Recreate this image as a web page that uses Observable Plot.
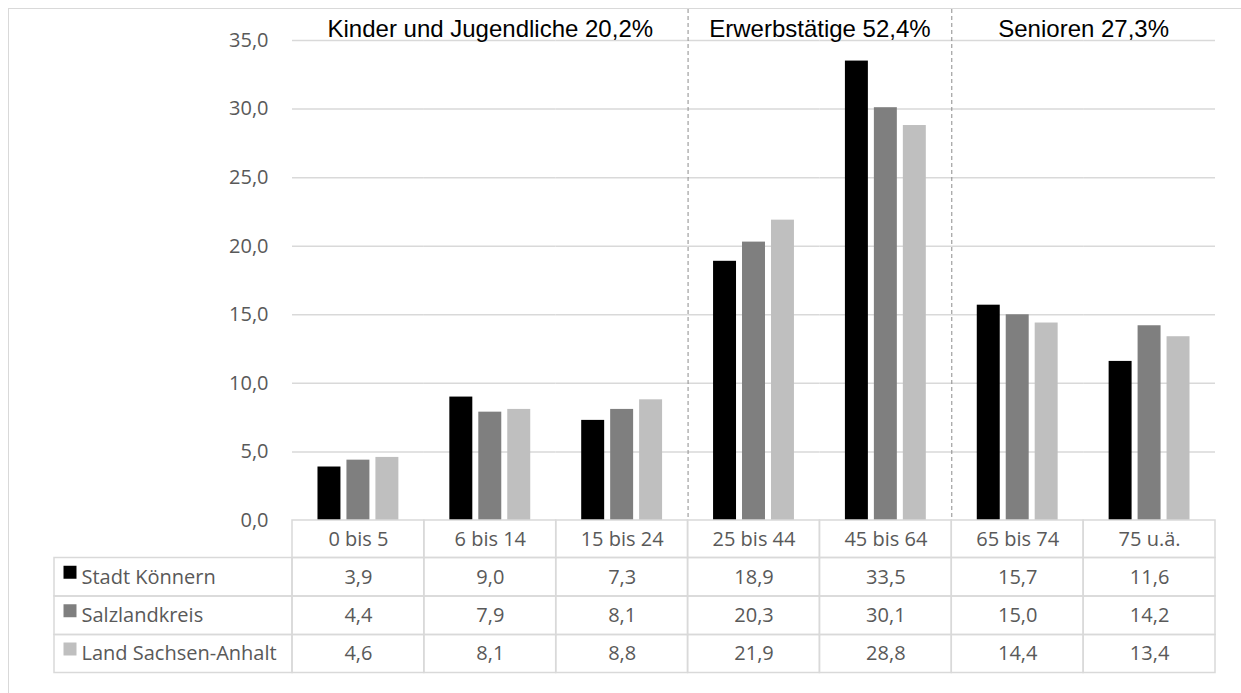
<!DOCTYPE html>
<html>
<head>
<meta charset="utf-8">
<script src="https://cdn.jsdelivr.net/npm/d3@7"></script>
<script src="https://cdn.jsdelivr.net/npm/@observablehq/plot@0.6"></script>
<style>
  html, body { margin: 0; padding: 0; background: #fff; overflow: hidden; }
  #wrap { position: relative; width: 1241px; height: 693px; overflow: hidden; background: #fff; }
  #wrap svg { position: absolute; left: 0; top: 0; }
  #border { position: absolute; left: 8px; top: 8px; width: 1400px; height: 900px;
            border: 1.5px solid #d9d9d9; pointer-events: none; }
</style>
</head>
<body>
<div id="wrap"></div>
<script>
// ---------- data ----------
const categories = ["0 bis 5", "6 bis 14", "15 bis 24", "25 bis 44", "45 bis 64", "65 bis 74", "75 u.ä."];
const seriesNames = ["Stadt Könnern", "Salzlandkreis", "Land Sachsen-Anhalt"];
const stadtKoennern = [3.9, 9.0, 7.3, 18.9, 33.5, 15.7, 11.6];
const salzlandkreis = [4.4, 7.9, 8.1, 20.3, 30.1, 15.0, 14.2];
const landSachsenAnhalt = [4.6, 8.1, 8.8, 21.9, 28.8, 14.4, 13.4];
const seriesColors = ["#000000", "#7f7f7f", "#bfbfbf"];
const groupLabels = ["Kinder und Jugendliche 20,2%", "Erwerbstätige 52,4%", "Senioren 27,3%"];
const groupStarts = ["0 bis 5", "25 bis 44", "65 bis 74"];
const groupSizes = [3, 2, 2];
const yTicks = [0, 5, 10, 15, 20, 25, 30, 35];

const seriesValues = [stadtKoennern, salzlandkreis, landSachsenAnhalt];
const rows = seriesNames.flatMap((s, i) =>
  categories.map((c, j) => ({series: s, cat: c, value: seriesValues[i][j]})));

const fmt = v => v.toFixed(1).replace(".", ",");

// ---------- layout ----------
const W = 1241, H = 693;
const mL = 292, mR = 26, mT = 40, mB = 173;
const plotH = H - mT - mB;
const fw = (W - mL - mR) / categories.length;
const rowEdges = [0, 37.5, 76, 114.5, 152.5];   // table rows below the plot bottom
const labelColW = 238;
const gridColor = "#d9d9d9";

const marks = [];

// gridlines
marks.push(Plot.ruleY(yTicks.filter(t => t > 0), {stroke: gridColor, strokeWidth: 1.5}));

// group separators (dashed) at left edge of each group except the first
marks.push(Plot.ruleX(groupStarts.slice(1), {
  fx: d => d, x: null, dx: -fw / 2, insetTop: -(mT - 9),
  stroke: "#8c8c8c", strokeWidth: 1, strokeDasharray: "4,3"
}));

// bars
marks.push(Plot.barY(rows, {fx: "cat", x: "series", y: "value", fill: "series"}));

// group titles
groupLabels.forEach((label, g) => {
  const start = categories.indexOf(groupStarts[g]);
  const mid = start + (groupSizes[g] - 1) / 2;
  const even = !Number.isInteger(mid);
  const facet = categories[Math.floor(mid)];
  marks.push(Plot.text([label], {
    fx: () => facet, text: d => d,
    frameAnchor: even ? "top-right" : "top", textAnchor: "middle",
    lineAnchor: "bottom", dy: -4,
    fill: "#000", fontFamily: "'Liberation Sans', Arial, sans-serif", fontSize: 24
  }));
});

// table: header cells + header labels
marks.push(Plot.rect(categories, {
  fx: d => d, insetTop: plotH + rowEdges[0], insetBottom: -rowEdges[1],
  fill: "none", stroke: gridColor, strokeWidth: 1.5
}));
marks.push(Plot.text(categories, {
  fx: d => d, text: d => d, frameAnchor: "bottom",
  dy: (rowEdges[0] + rowEdges[1]) / 2, lineAnchor: "middle"
}));

// table: data rows
seriesNames.forEach((s, i) => {
  const top = rowEdges[i + 1], bot = rowEdges[i + 2], mid = (top + bot) / 2;
  marks.push(Plot.rect(categories, {
    fx: d => d, insetTop: plotH + top, insetBottom: -bot,
    fill: "none", stroke: gridColor, strokeWidth: 1.5
  }));
  marks.push(Plot.text(rows.filter(d => d.series === s), {
    fx: "cat", text: d => fmt(d.value), frameAnchor: "bottom", dy: mid, lineAnchor: "middle"
  }));
  // label column cell
  marks.push(Plot.rect([s], {
    fx: () => categories[0], insetLeft: -labelColW, insetRight: fw,
    insetTop: plotH + top, insetBottom: -bot,
    fill: "none", stroke: gridColor, strokeWidth: 1.5
  }));
  marks.push(Plot.dot([s], {
    fx: () => categories[0], fill: d => d, symbol: "square", r: 7.33,
    frameAnchor: "bottom-left", dx: -(mL - 69.5), dy: mid - 5
  }));
  marks.push(Plot.text([s], {
    fx: () => categories[0], text: d => d, frameAnchor: "bottom-left",
    dx: -(mL - 81), dy: mid, textAnchor: "start", lineAnchor: "middle"
  }));
});

const chart = Plot.plot({
  width: W, height: H,
  marginLeft: mL, marginRight: mR, marginTop: mT, marginBottom: mB,
  style: {fontFamily: "'Open Sans', sans-serif", fontSize: "20px", color: "#595959",
          background: "transparent", overflow: "visible"},
  fx: {domain: categories, padding: 0, round: false, axis: null, label: null},
  x: {domain: seriesNames, paddingInner: 0.207, paddingOuter: 0.88, round: false, axis: null, label: null},
  y: {domain: [0, 35], ticks: yTicks, tickFormat: fmt, tickSize: 0, tickPadding: 24, label: null},
  color: {domain: seriesNames, range: seriesColors},
  marks
});

const wrap = document.getElementById("wrap");
wrap.appendChild(chart);
const border = document.createElement("div");
border.id = "border";
wrap.appendChild(border);
</script>
</body>
</html>
